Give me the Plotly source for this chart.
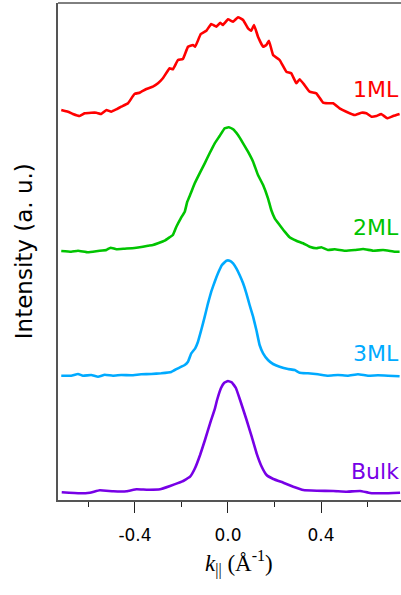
import plotly.graph_objects as go

# ---------------- data (k in 1/Å, intensity in arbitrary units, stacked) ----------------
k_1ml = [-0.717, -0.688, -0.667, -0.638, -0.616, -0.588, -0.566, -0.545, -0.523, -0.502,
         -0.480, -0.459, -0.430, -0.402, -0.380, -0.351, -0.323, -0.301, -0.280, -0.251,
         -0.237, -0.215, -0.194, -0.172, -0.151, -0.141, -0.117, -0.093, -0.072, -0.050,
         -0.033, -0.022, 0.000, 0.022, 0.043, 0.065, 0.086, 0.100, 0.112, 0.129,
         0.151, 0.165, 0.176, 0.194, 0.222, 0.251, 0.272, 0.294, 0.308, 0.329,
         0.351, 0.380, 0.409, 0.430, 0.452, 0.480, 0.509, 0.545, 0.574, 0.595,
         0.617, 0.638, 0.659, 0.685, 0.710, 0.738]
i_1ml = [3.900, 3.883, 3.860, 3.840, 3.867, 3.873, 3.873, 3.860, 3.900, 3.883,
         3.907, 3.933, 3.967, 4.060, 4.073, 4.110, 4.133, 4.167, 4.217, 4.317,
         4.307, 4.400, 4.410, 4.533, 4.550, 4.533, 4.660, 4.693, 4.760, 4.733,
         4.773, 4.750, 4.807, 4.783, 4.827, 4.800, 4.717, 4.693, 4.750, 4.633,
         4.533, 4.550, 4.593, 4.450, 4.400, 4.283, 4.267, 4.167, 4.207, 4.150,
         4.083, 4.067, 3.973, 3.967, 3.967, 3.917, 3.883, 3.850, 3.873, 3.867,
         3.833, 3.840, 3.860, 3.817, 3.840, 3.860]

k_2ml = [-0.717, -0.674, -0.645, -0.602, -0.559, -0.523, -0.505, -0.480, -0.444, -0.402,
         -0.366, -0.344, -0.323, -0.301, -0.272, -0.251, -0.237, -0.222, -0.203, -0.186,
         -0.175, -0.160, -0.143, -0.122, -0.100, -0.079, -0.057, -0.036, -0.014, 0.003,
         0.022, 0.043, 0.065, 0.086, 0.108, 0.129, 0.151, 0.172, 0.186, 0.201,
         0.222, 0.244, 0.265, 0.294, 0.323, 0.351, 0.380, 0.401, 0.430, 0.459,
         0.502, 0.545, 0.581, 0.624, 0.667, 0.717, 0.738]
i_2ml = [2.490, 2.483, 2.493, 2.477, 2.490, 2.500, 2.523, 2.507, 2.513, 2.520,
         2.533, 2.543, 2.550, 2.567, 2.593, 2.627, 2.650, 2.733, 2.817, 2.883,
         2.983, 3.067, 3.167, 3.267, 3.367, 3.467, 3.567, 3.640, 3.717, 3.727,
         3.707, 3.650, 3.567, 3.483, 3.383, 3.250, 3.150, 3.017, 2.900, 2.817,
         2.750, 2.683, 2.627, 2.593, 2.567, 2.533, 2.517, 2.527, 2.500, 2.507,
         2.493, 2.500, 2.510, 2.493, 2.500, 2.483, 2.483]

k_3ml = [-0.717, -0.674, -0.645, -0.624, -0.588, -0.559, -0.530, -0.495, -0.459, -0.416,
         -0.373, -0.330, -0.287, -0.244, -0.215, -0.186, -0.172, -0.158, -0.141, -0.129,
         -0.115, -0.100, -0.086, -0.072, -0.057, -0.043, -0.026, -0.007, 0.007, 0.022,
         0.036, 0.050, 0.065, 0.079, 0.093, 0.108, 0.122, 0.136, 0.151, 0.172,
         0.194, 0.222, 0.258, 0.287, 0.308, 0.344, 0.387, 0.430, 0.473, 0.516,
         0.559, 0.602, 0.645, 0.688, 0.738]
i_3ml = [1.243, 1.243, 1.260, 1.243, 1.250, 1.233, 1.253, 1.243, 1.250, 1.247,
         1.257, 1.260, 1.267, 1.280, 1.317, 1.350, 1.383, 1.467, 1.517, 1.583,
         1.700, 1.833, 1.967, 2.083, 2.183, 2.267, 2.350, 2.393, 2.393, 2.367,
         2.317, 2.250, 2.167, 2.067, 1.950, 1.833, 1.700, 1.550, 1.467, 1.400,
         1.360, 1.333, 1.310, 1.300, 1.273, 1.267, 1.257, 1.243, 1.250, 1.243,
         1.257, 1.243, 1.247, 1.243, 1.237]

k_bulk = [-0.715, -0.637, -0.594, -0.551, -0.493, -0.436, -0.393, -0.350, -0.292, -0.249,
          -0.199, -0.163, -0.142, -0.120, -0.099, -0.077, -0.056, -0.047, -0.030, -0.017,
          0.000, 0.017, 0.034, 0.052, 0.080, 0.102, 0.123, 0.145, 0.166, 0.195,
          0.238, 0.281, 0.324, 0.382, 0.453, 0.511, 0.568, 0.611, 0.668, 0.740]
i_bulk = [0.077, 0.067, 0.073, 0.097, 0.087, 0.087, 0.107, 0.103, 0.107, 0.140,
          0.183, 0.233, 0.317, 0.450, 0.600, 0.767, 0.917, 1.000, 1.120, 1.170,
          1.190, 1.175, 1.120, 1.000, 0.800, 0.633, 0.467, 0.333, 0.250, 0.210,
          0.173, 0.133, 0.100, 0.093, 0.090, 0.083, 0.090, 0.070, 0.067, 0.073]

labels = ["1ML", "2ML", "3ML", "Bulk"]
label_y = [4.11, 2.725, 1.47, 0.283]
colors = ["#ff0000", "#00c400", "#00aaff", "#7700e6"]
x_ticks = [-0.4, 0.0, 0.4]
x_tick_text = ["-0.4", "0.0", "0.4"]

series = [(k_1ml, i_1ml), (k_2ml, i_2ml), (k_3ml, i_3ml), (k_bulk, i_bulk)]

fig = go.Figure()
for (kk, ii), name, c in zip(series, labels, colors):
    fig.add_trace(go.Scatter(x=kk, y=ii, mode="lines", name=name,
                             line=dict(color=c, width=2.6, shape="spline", smoothing=0.3),
                             showlegend=False))

for name, yy, c in zip(labels, label_y, colors):
    fig.add_annotation(x=1.0, xref="paper", xanchor="right", y=yy, yref="y", yanchor="middle",
                       text=name, showarrow=False,
                       font=dict(family="DejaVu Sans", size=22, color=c))

# axis titles
fig.add_annotation(x=0.528, xref="paper", xanchor="center", y=-0.127, yref="paper", yanchor="middle",
                   text="<i>k</i><sub>||</sub> (Å<sup>-1</sup>)", showarrow=False,
                   font=dict(family="Liberation Serif", size=23, color="black"))
fig.add_annotation(x=-0.10, xref="paper", xanchor="center", y=0.50, yref="paper", yanchor="middle",
                   text="Intensity (a. u.)", textangle=-90, showarrow=False,
                   font=dict(family="DejaVu Sans", size=23, color="black"))

# top border
fig.add_shape(type="line", xref="paper", yref="paper", x0=0, x1=1, y0=1, y1=1,
              line=dict(color="black", width=1))

fig.update_layout(
    width=401, height=595, autosize=False,
    margin=dict(l=58, r=0, t=3, b=95, pad=0),
    paper_bgcolor="white", plot_bgcolor="white",
    xaxis=dict(range=[-0.731, 0.744], showgrid=False, zeroline=False,
               showline=True, linewidth=2, linecolor="#555555",
               tickmode="array", tickvals=x_ticks, ticktext=x_tick_text,
               ticks="outside", ticklen=11, tickwidth=1, tickcolor="#222222",
               ticklabelstandoff=8,
               tickfont=dict(family="DejaVu Sans", size=17, color="black"),
               minor=dict(dtick=0.2, tick0=0, ticks="outside", ticklen=5, tickwidth=1,
                          tickcolor="#222222", showgrid=False)),
    yaxis=dict(range=[0, 4.97], showgrid=False, zeroline=False,
               showline=True, linewidth=2, linecolor="#555555",
               showticklabels=False, ticks=""),
)

fig.write_html("out.html")
